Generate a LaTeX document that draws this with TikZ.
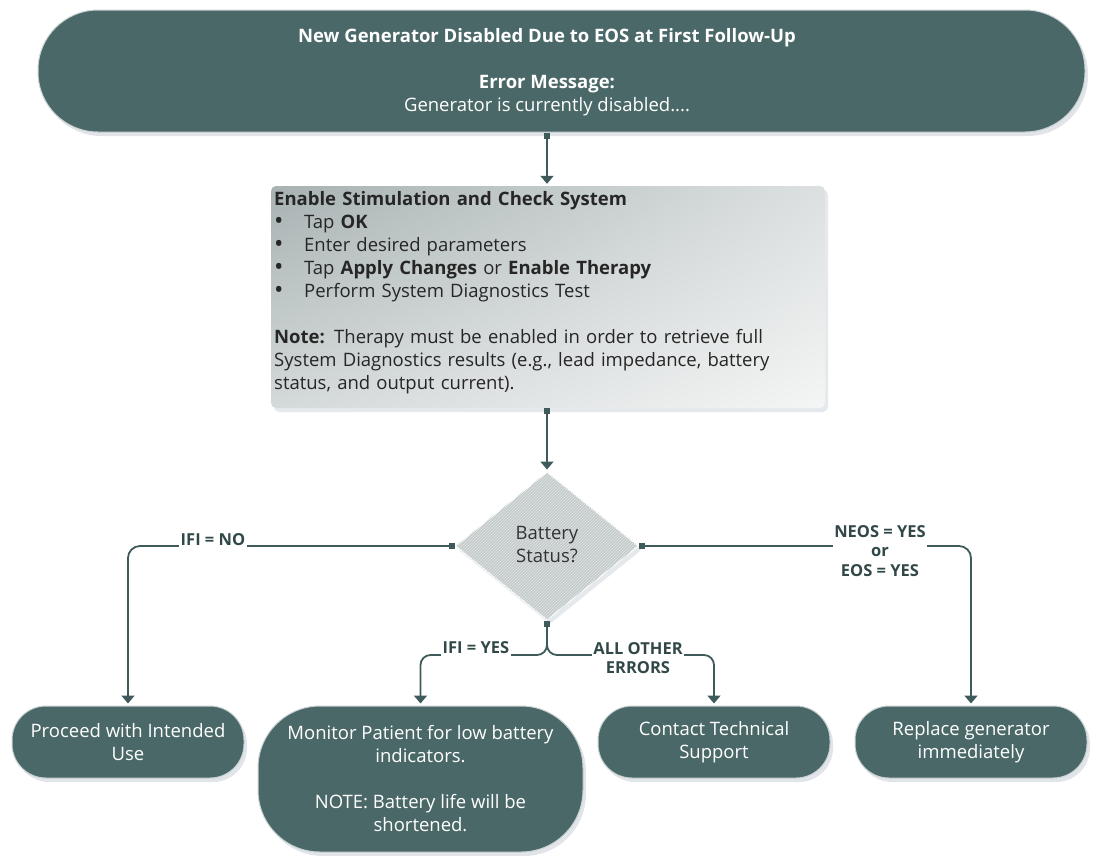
\documentclass[tikz,border=0pt]{standalone}
\usepackage{fontspec}
\setmainfont{Open Sans}
\usetikzlibrary{shapes.geometric,arrows.meta,shadows,patterns,shadings}
\definecolor{teal1}{RGB}{75,104,104}
\definecolor{line1}{RGB}{62,90,90}
\definecolor{gA}{RGB}{168,178,178}
\definecolor{gB}{RGB}{220,224,224}
\definecolor{gC}{RGB}{212,217,217}
\definecolor{gD}{RGB}{244,245,245}
\definecolor{dia}{RGB}{196,202,202}
\definecolor{diaL}{RGB}{224,228,228}
\definecolor{shad}{RGB}{170,180,195}
\newcommand{\bul}{\makebox[30pt][l]{\raisebox{-1.2pt}[0pt][0pt]{\scalebox{1.35}{\textbullet}}}}
\tikzset{
  x=1pt,y=-1pt,
  every node/.style={font=\fontsize{18.5}{23}\selectfont},
  term/.style={fill=teal1, draw=white!70!teal1, line width=1pt, text=white, align=center,
     drop shadow={shadow xshift=3pt,shadow yshift=-4pt,fill=shad,opacity=0.35}},
  conn/.style={draw=line1, line width=1.8pt,
     arrows={Square[length=6pt,width=6pt]-Triangle[length=8pt,width=13pt]}, shorten >=2pt},
  lbl/.style={fill=white, inner sep=1.5pt, align=center, text=line1!80!black,
     font=\fontsize{16.5}{19.5}\selectfont\bfseries},
}
\begin{document}
\begin{tikzpicture}
\useasboundingbox (0,0) rectangle (1099,855);
% top terminal
\node[term, minimum width=1047, minimum height=122, rounded corners=60] (top) at (561.5,71) {};
\node[text=white, align=center] (toptext) at (547,72)
 {\textbf{New Generator Disabled Due to EOS at First Follow-Up}\\[23pt]
  \textbf{Error Message:}\\ Generator is currently disabled....};
% process box
\node[rounded corners=5, minimum width=554, minimum height=222,
  upper left=gA, upper right=gB, lower left=gC, lower right=gD,
  drop shadow={shadow xshift=3pt,shadow yshift=-4pt,fill=shad,opacity=0.3}] (box) at (548,297) {};
\node[text width=552, inner sep=0pt, align=left, text=black!85, anchor=north west] (boxtext) at (274,191)
 {\textbf{Enable Stimulation and Check System}\\
  \bul Tap \textbf{OK}\\
  \bul Enter desired parameters\\
  \bul Tap \textbf{Apply Changes} or \textbf{Enable Therapy}\\
  \bul Perform System Diagnostics Test\\[23pt]
  \textbf{Note:} Therapy must be enabled in order to retrieve full\\
  System Diagnostics results (e.g., lead impedance, battery\\
  status, and output current).};
% diamond
\node[diamond, minimum width=183, minimum height=148, inner sep=0pt, fill=dia, draw=white, line width=1pt,
  drop shadow={shadow xshift=3pt,shadow yshift=-4pt,fill=shad,opacity=0.3}] (dec) at (547,546) {};
\fill[pattern=north east lines, pattern color=diaL] (dec.north) -- (dec.east) -- (dec.south) -- (dec.west) -- cycle;
\node[align=center, text=black!80] (dectext) at (547,545) {Battery\\Status?};
% bottom terminals
\node[term, minimum width=232, minimum height=72, rounded corners=34] (p1) at (128,742) {Proceed with Intended\\Use};
\node[term, minimum width=325, minimum height=146, rounded corners=62] (p2) at (420.5,779)
 {Monitor Patient for low battery\\indicators.\\[23pt]NOTE: Battery life will be\\shortened.};
\node[term, minimum width=232, minimum height=72, rounded corners=34] (p3) at (714,742) {Contact Technical\\Support};
\node[term, minimum width=232, minimum height=72, rounded corners=34] (p4) at (971,742) {Replace generator\\immediately};
% connectors
\draw[conn] (dec.north |- top.south) -- (dec.north |- box.north);
\draw[conn] (dec.north |- box.south) -- (dec.north);
\draw[conn, rounded corners=12] (dec.west) -| (p1.north);
\draw[conn, rounded corners=12] (dec.east) -| (p4.north);
\coordinate (j) at (547,655);
\draw[conn, rounded corners=10] (dec.south) -- (j) -| (p2.north);
\draw[conn, rounded corners=10] (dec.south) -- (j) -| (p3.north);
% labels
\node[lbl] (l1) at (213,540) {IFI = NO};
\node[lbl] (l2) at (880,551) {NEOS = YES\\or\\EOS = YES};
\node[lbl] (l3) at (476,648) {IFI = YES};
\node[lbl] (l4) at (638,658) {ALL OTHER\\ERRORS};
\end{tikzpicture}
\end{document}
